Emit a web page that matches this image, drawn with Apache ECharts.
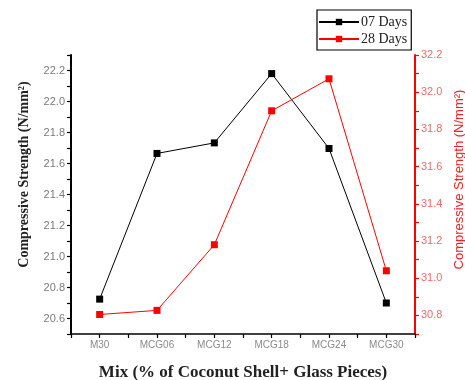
<!DOCTYPE html>
<html>
<head>
<meta charset="utf-8">
<script src="https://cdn.jsdelivr.net/npm/echarts@6/dist/echarts.min.js"></script>
<style>html,body{margin:0;padding:0;background:#fff}#c{width:465px;height:380px}</style>
</head>
<body>
<div id="c"></div>
<script>
const categories = ['M30', 'MCG06', 'MCG12', 'MCG18', 'MCG24', 'MCG30'];
const days07 = [20.725, 21.665, 21.733, 22.18, 21.697, 20.70];
const days28 = [30.805, 30.827, 31.18, 31.90, 32.072, 31.04];
const seriesNames = ['07 Days', '28 Days'];
const leftRange = [20.5, 22.3];
const rightRange = [30.7, 32.2];
const xTitle = 'Mix (% of Coconut Shell+ Glass Pieces)';
const yTitle = 'Compressive Strength (N/mm\u00B2)';

const chart = echarts.init(document.getElementById('c'), null, {renderer: 'canvas'});
const evenTenth = v => (Math.round(v * 10) % 2 === 0) ? v.toFixed(1) : '';
chart.setOption({
  animation: false,
  grid: {left: 71, right: 50, top: 55, bottom: 46, containLabel: false, outerBoundsMode: 'none'},
  legend: {
    orient: 'vertical', left: 317, top: 10,
    padding: [5, 4, 4, 1], itemGap: 3, itemWidth: 40, itemHeight: 8,
    borderColor: '#000', borderWidth: 1.2,
    textStyle: {fontFamily: 'Liberation Serif', fontSize: 14, color: '#222', padding: [0, 0, 0, -3]},
    data: seriesNames
  },
  xAxis: {
    type: 'value', min: -0.5, max: categories.length - 0.5, interval: 0.5,
    splitLine: {show: false},
    axisLine: {onZero: false, lineStyle: {color: '#000', width: 1.5}},
    axisTick: {show: true, length: 4, lineStyle: {color: '#000', width: 1.2}},
    axisLabel: {
      color: '#8a8a8a', fontFamily: 'Liberation Sans', fontSize: 10, margin: 6,
      formatter: v => { const r = Math.round(v * 2) / 2; return Number.isInteger(r) && r >= 0 && r < categories.length ? categories[r] : ''; }
    },
    name: xTitle, nameLocation: 'middle', nameGap: 30,
    nameTextStyle: {fontFamily: 'Liberation Serif', fontWeight: 'bold', fontSize: 17, color: '#222'}
  },
  yAxis: [{
    type: 'value', min: leftRange[0], max: leftRange[1], interval: 0.1,
    splitLine: {show: false},
    axisLine: {show: true, onZero: false, lineStyle: {color: '#000', width: 2}},
    axisTick: {show: true, length: 4, lineStyle: {color: '#000', width: 1.2}},
    axisLabel: {color: '#7a7a7a', fontFamily: 'Liberation Sans', fontSize: 11, margin: 6, formatter: evenTenth},
    name: yTitle, nameLocation: 'middle', nameGap: 40, nameRotate: 90,
    nameTextStyle: {fontFamily: 'Liberation Serif', fontWeight: 'bold', fontSize: 14, color: '#222', padding: [0, 0, 0, 40]}
  }, {
    type: 'value', position: 'right', min: rightRange[0], max: rightRange[1], interval: 0.1,
    splitLine: {show: false},
    axisLine: {show: true, onZero: false, lineStyle: {color: '#ff0000', width: 2}},
    axisTick: {show: true, length: 4, lineStyle: {color: '#ff0000', width: 1.2}},
    axisLabel: {color: '#f06a6a', fontFamily: 'Liberation Sans', fontSize: 11, margin: 6, formatter: evenTenth},
    name: yTitle, nameLocation: 'middle', nameGap: 36, nameRotate: 90,
    nameTextStyle: {fontFamily: 'Liberation Sans', fontSize: 13, color: '#ee2222', padding: [0, 0, 0, 30]}
  }],
  series: [{
    name: seriesNames[0], type: 'line', yAxisIndex: 0,
    data: days07.map((v, i) => [i, v]),
    symbol: 'rect', symbolSize: 7,
    lineStyle: {color: '#000', width: 1}, itemStyle: {color: '#000'}
  }, {
    name: seriesNames[1], type: 'line', yAxisIndex: 1,
    data: days28.map((v, i) => [i, v]),
    symbol: 'rect', symbolSize: 7,
    lineStyle: {color: '#ff0000', width: 1}, itemStyle: {color: '#ff0000'}
  }]
});
</script>
</body>
</html>
